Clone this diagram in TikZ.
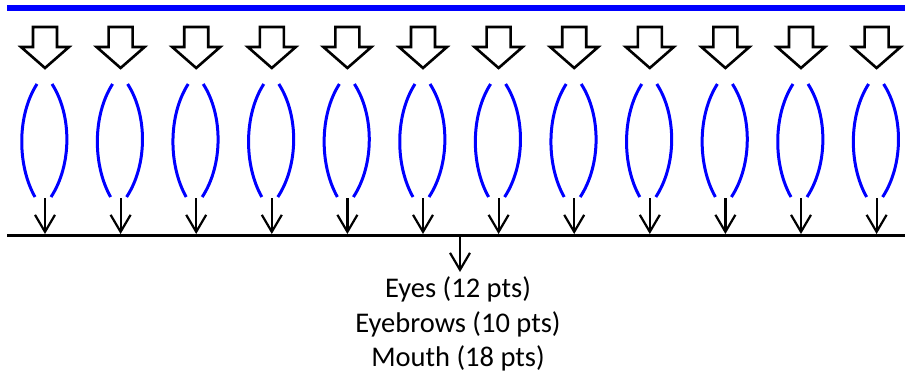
\documentclass[tikz,border=0pt]{standalone}
\usepackage{fontspec}
\setmainfont{Carlito}
\usetikzlibrary{arrows.meta}
\begin{document}
\begin{tikzpicture}[x=1pt,y=-1pt,
  blockarrow/.style={draw=black,line width=2.6pt,line join=miter,fill=white},
  lens/.style={draw=blue,line width=3pt},
  smallarrow/.style={draw=black,line width=2.2pt,-{Straight Barb[length=17pt,width=20pt,line width=2.2pt]}},
  bar/.style={line width=3pt},
  lbl/.style={font=\fontsize{28.5}{34}\selectfont,inner sep=0pt,anchor=center}]
\useasboundingbox (0,0) rectangle (905,378);
\draw[blue,line width=6pt] (7,8) coordinate (bl) -- (905,8) coordinate (br);
\draw[bar] (7,235) coordinate (kl) -- (905,235) coordinate (kr);
\foreach \i in {0,...,11}{
  \pgfmathsetmacro{\c}{45+75.6*\i}
  \draw[blockarrow] (\c-12,27) -- (\c+12,27) -- (\c+12,47) -- (\c+24,47) -- (\c,68) -- (\c-24,47) -- (\c-12,47) -- cycle;
  \coordinate (lt\i) at (\c-8,84);
  \coordinate (lb\i) at (\c-10,197);
  \coordinate (rt\i) at (\c+7,84);
  \coordinate (rb\i) at (\c+6,197);
  \draw[lens] (lt\i) .. controls (\c-28,115) and (\c-28,165) .. (lb\i);
  \draw[lens] (rt\i) .. controls (\c+27,115) and (\c+27,165) .. (rb\i);
  \coordinate (as\i) at (\c,198);
  \coordinate (ae\i) at (\c,234);
  \draw[smallarrow] (as\i) -- (ae\i);
}
\coordinate (cs) at (460,235);
\coordinate (ce) at (460,272);
\draw[smallarrow] (cs) -- (ce);
\node[lbl] (t1) at (458,289) {Eyes (12 pts)};
\node[lbl] (t2) at (458,324) {Eyebrows (10 pts)};
\node[lbl] (t3) at (458,358) {Mouth (18 pts)};
\end{tikzpicture}
\end{document}
